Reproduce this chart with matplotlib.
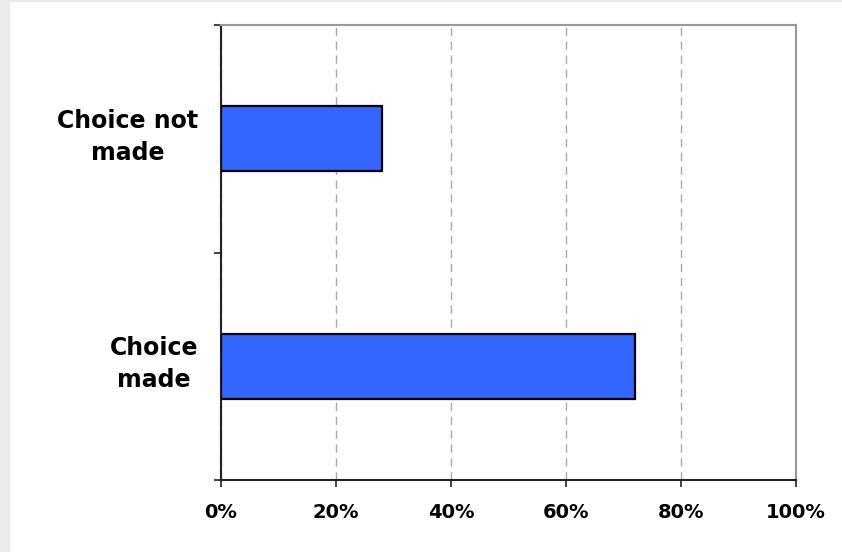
import matplotlib
matplotlib.use("Agg")
import matplotlib.pyplot as plt
import matplotlib.transforms as mtransforms
from matplotlib.patches import Rectangle
from matplotlib.ticker import FuncFormatter

categories = ["Choice\nmade", "Choice not\nmade"]
values = [72, 28]
xticks = [0, 20, 40, 60, 80, 100]

plt.rcParams['font.family'] = ['DejaVu Sans']

fig = plt.figure(figsize=(8.42, 5.52), dpi=100)
fig.patch.set_facecolor('white')
# light gray frame strips (top and left)
fig.patches.append(Rectangle((0, 1 - 2/552), 1, 2/552, transform=fig.transFigure,
                             facecolor='#ebebeb', edgecolor='none', zorder=-10))
fig.patches.append(Rectangle((0, 0), 10/842, 1, transform=fig.transFigure,
                             facecolor='#ebebeb', edgecolor='none', zorder=-10))

ax = fig.add_axes([221/842, 1 - 480/552, (796-221)/842, (480-25)/552])
ax.set_facecolor('white')

ypos = list(range(len(categories)))
ax.barh(ypos, values, height=0.286, color='#3366ff', edgecolor='black',
        linewidth=1.6, zorder=3)

ax.set_xlim(0, 100)
ax.set_ylim(-0.5, len(categories) - 0.5)

ax.set_xticks(xticks)
ax.xaxis.set_major_formatter(FuncFormatter(lambda v, p: f"{int(v)}%"))
ax.tick_params(axis='x', direction='out', length=5, width=1.2, color='#222222',
               pad=11.5, labelsize=14)
for lab in ax.get_xticklabels():
    lab.set_fontweight('bold')

ax.set_yticks(ypos)
ax.set_yticklabels(categories, fontsize=17, fontweight='bold',
                   multialignment='center', linespacing=1.4)
ax.tick_params(axis='y', which='major', length=0, pad=16.5)
offset = mtransforms.ScaledTranslation(0, 6/72, fig.dpi_scale_trans)
for lab in ax.get_yticklabels():
    lab.set_transform(lab.get_transform() + offset)
ax.set_yticks([-0.5 + i for i in range(len(categories) + 1)], minor=True)
ax.tick_params(axis='y', which='minor', direction='out', length=5, width=1.2,
               color='#222222')

ax.grid(axis='x', color='#aaaaaa', linestyle=(0, (6, 4)), linewidth=1.0, zorder=0)
ax.set_axisbelow(True)

ax.spines['left'].set_color('#222222')
ax.spines['left'].set_linewidth(1.5)
ax.spines['bottom'].set_color('#222222')
ax.spines['bottom'].set_linewidth(1.5)
ax.spines['top'].set_color('#999999')
ax.spines['top'].set_linewidth(1.5)
ax.spines['right'].set_color('#999999')
ax.spines['right'].set_linewidth(1.5)

fig.savefig('out.png', dpi=100, facecolor=fig.get_facecolor())
